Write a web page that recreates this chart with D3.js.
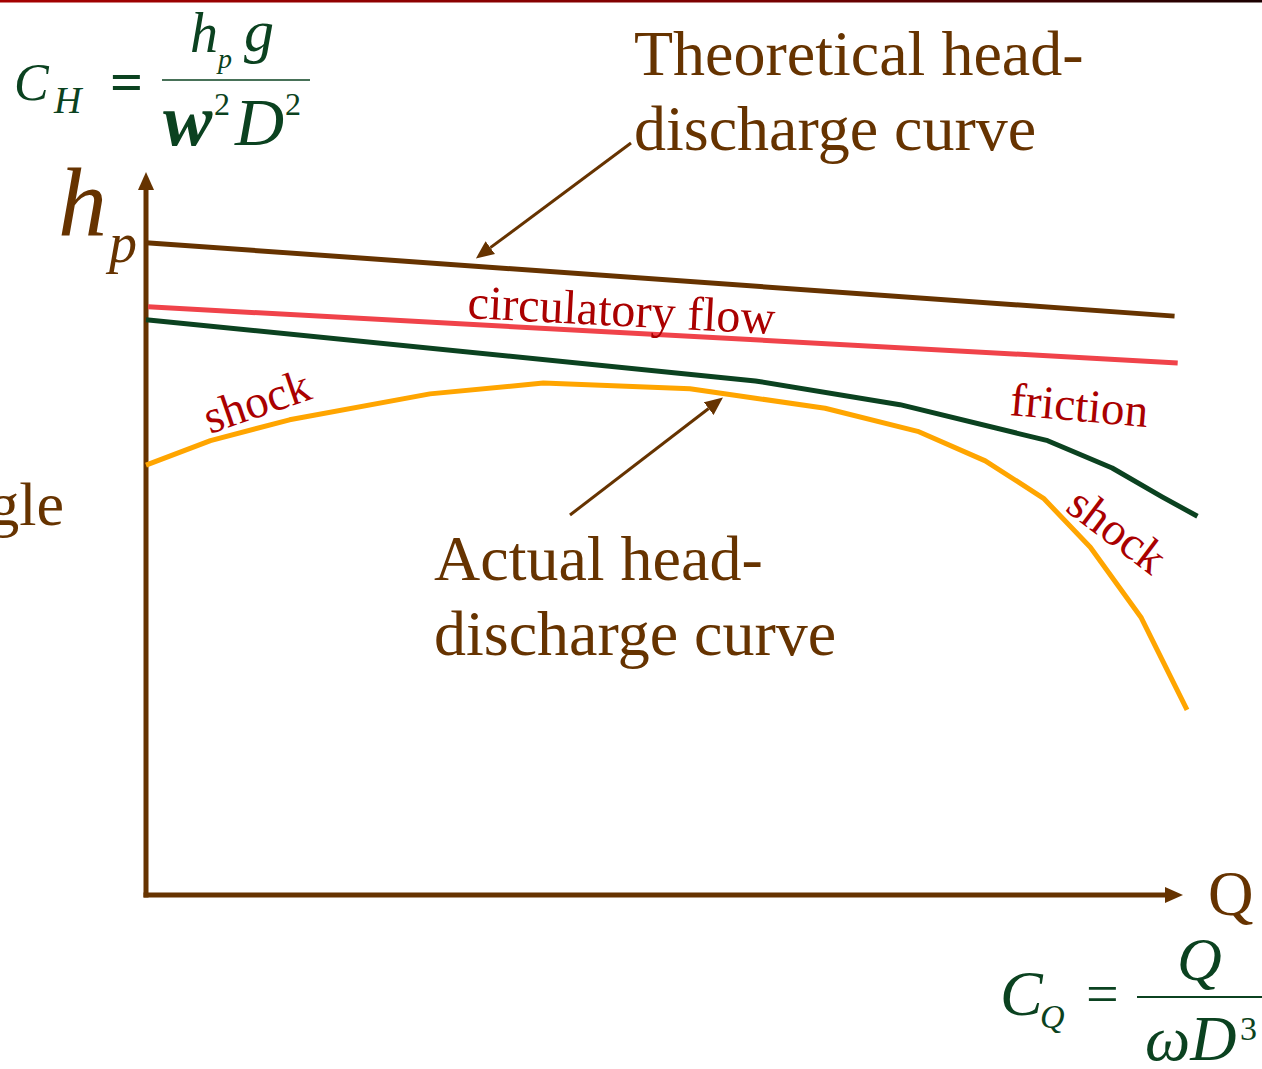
<!DOCTYPE html>
<html>
<head>
<meta charset="utf-8">
<script src="https://cdn.jsdelivr.net/npm/d3@7"></script>
<style>
  html, body { margin: 0; padding: 0; background: #fff; }
  svg { display: block; }
  text { font-family: "Liberation Serif", "Times New Roman", serif; }
</style>
</head>
<body>
<div id="chart"></div>
<script>
// curve values (Q and head on a 0-100 scale)
const theoreticalQ = [0, 98.9];
const theoreticalH = [90.6, 80.4];
const circulatoryQ = [0.2, 99.2];
const circulatoryH = [81.7, 73.9];
const frictionQ = [0, 58.6, 72.5, 86.7, 92.9, 97.7, 101.1];
const frictionH = [79.9, 71.4, 68.1, 63.1, 59.3, 55.3, 52.6];
const actualQ = [0, 6.2, 13.8, 27.3, 38.2, 52.3, 58.6, 65.3, 74.2, 80.7, 86.3, 90.8, 95.7, 100.1];
const actualH = [59.7, 63.1, 66.0, 69.6, 71.1, 70.3, 69.0, 67.6, 64.4, 60.3, 55.1, 48.3, 38.5, 25.7];

// where the two pointer arrows touch the curves
const theoreticalTip = [31.8, 88.5];
const actualTip = [55.4, 69.0];

const brown = "#663300";
const labelRed = "#aa0000";
const green = "#0b4220";

const width = 1262;
const height = 1069;

const svg = d3
  .select("#chart")
  .append("svg")
  .attr("width", width)
  .attr("height", height);

const defs = svg.append("defs");

const grad = defs
  .append("linearGradient")
  .attr("id", "topbar")
  .attr("x1", "0%")
  .attr("x2", "100%");
grad.append("stop").attr("offset", "0%").attr("stop-color", "#a50000");
grad.append("stop").attr("offset", "60%").attr("stop-color", "#7a0000");
grad.append("stop").attr("offset", "100%").attr("stop-color", "#1a0000");

function addMarker(id, len, half) {
  defs
    .append("marker")
    .attr("id", id)
    .attr("markerUnits", "userSpaceOnUse")
    .attr("viewBox", `0 ${-half} ${len} ${half * 2}`)
    .attr("refX", 0)
    .attr("refY", 0)
    .attr("markerWidth", len)
    .attr("markerHeight", half * 2)
    .attr("orient", "auto")
    .append("path")
    .attr("d", `M0,${-half}L${len},0L0,${half}Z`)
    .attr("fill", brown);
}
addMarker("axisHead", 18, 8);
addMarker("pointerHead", 18, 8);

svg
  .append("rect")
  .attr("x", 0)
  .attr("y", 0)
  .attr("width", width)
  .attr("height", 2.5)
  .attr("fill", "url(#topbar)");

const x = d3.scaleLinear().domain([0, 100]).range([146, 1186]);
const y = d3.scaleLinear().domain([0, 100]).range([895, 175]);

const line = d3
  .line()
  .x((d) => x(d[0]))
  .y((d) => y(d[1]));

// axes
svg
  .append("line")
  .attr("x1", x(0))
  .attr("y1", y(0) + 2.5)
  .attr("x2", x(0))
  .attr("y2", y(100) + 15)
  .attr("stroke", brown)
  .attr("stroke-width", 5)
  .attr("marker-end", "url(#axisHead)");

svg
  .append("line")
  .attr("x1", x(0) - 2.5)
  .attr("y1", y(0))
  .attr("x2", x(100) - 21)
  .attr("y2", y(0))
  .attr("stroke", brown)
  .attr("stroke-width", 5)
  .attr("marker-end", "url(#axisHead)");

const curves = [
  { q: theoreticalQ, h: theoreticalH, color: brown },
  { q: circulatoryQ, h: circulatoryH, color: "#f0434a" },
  { q: frictionQ, h: frictionH, color: green },
  { q: actualQ, h: actualH, color: "#ffa500" },
];

svg
  .selectAll(".curve")
  .data(curves)
  .enter()
  .append("path")
  .attr("class", "curve")
  .attr("d", (c) => line(c.q.map((q, i) => [q, c.h[i]])))
  .attr("fill", "none")
  .attr("stroke", (c) => c.color)
  .attr("stroke-width", 5)
  .attr("stroke-linejoin", "round");

// pointer arrows
function pointer(x0, y0, tip) {
  const tx = x(tip[0]);
  const ty = y(tip[1]);
  const a = Math.atan2(ty - y0, tx - x0);
  svg
    .append("line")
    .attr("x1", x0)
    .attr("y1", y0)
    .attr("x2", tx - 17 * Math.cos(a))
    .attr("y2", ty - 17 * Math.sin(a))
    .attr("stroke", brown)
    .attr("stroke-width", 3)
    .attr("marker-end", "url(#pointerHead)");
}
pointer(631, 143, theoreticalTip);
pointer(570, 515, actualTip);

function label(txt, px, py, size, color, rot, style) {
  const t = svg
    .append("text")
    .attr("x", px)
    .attr("y", py)
    .attr("fill", color)
    .style("font-size", size + "px")
    .text(txt);
  if (rot) t.attr("transform", `rotate(${rot},${px},${py})`);
  if (style) t.style("font-style", style);
  return t;
}

// big brown labels
label("Theoretical head-", 634, 75, 64, brown);
label("discharge curve", 634, 150, 64, brown);
label("Actual head-", 434, 580, 64, brown);
label("discharge curve", 434, 655, 64, brown);
label("gle", 64, 525, 62, brown).attr("text-anchor", "end");
label("Q", 1208, 915, 63, brown);

label("h", 58, 235, 98, brown, 0, "italic");
label("p", 109, 262, 56, brown, 0, "italic");

// red annotations on the curves
label("circulatory flow", 467, 318, 48, labelRed, 3);
label("friction", 1009, 415, 47, labelRed, 5);
label("shock", 210, 434, 47, labelRed, -19);
label("shock", 1064, 510, 47, labelRed, 37);

// C_H formula
label("C", 14, 100, 52, green, 0, "italic");
label("H", 54, 113, 38, green, 0, "italic");
label("=", 110, 101, 58, green).style("font-weight", "bold");
label("h", 190, 52, 56, green, 0, "italic");
label("p", 218, 68, 28, green, 0, "italic");
label("g", 244, 51, 60, green, 0, "italic");
svg
  .append("line")
  .attr("x1", 162)
  .attr("x2", 310)
  .attr("y1", 80)
  .attr("y2", 80)
  .attr("stroke", green)
  .attr("stroke-width", 1.5);
label("w", 163, 145, 74, green, 0, "italic").style("font-weight", "bold");
label("2", 214, 115, 32, green);
label("D", 235, 145, 68, green, 0, "italic");
label("2", 285, 115, 32, green);

// C_Q formula
label("C", 1000, 1015, 64, green, 0, "italic");
label("Q", 1040, 1028, 34, green, 0, "italic");
label("=", 1086, 1013, 58, green);
svg
  .append("line")
  .attr("x1", 1137)
  .attr("x2", 1262)
  .attr("y1", 997)
  .attr("y2", 997)
  .attr("stroke", green)
  .attr("stroke-width", 2);
label("Q", 1177, 980, 62, green, 0, "italic");
label("ωD", 1145, 1060, 64, green, 0, "italic");
label("3", 1240, 1040, 34, green);
</script>
</body>
</html>
